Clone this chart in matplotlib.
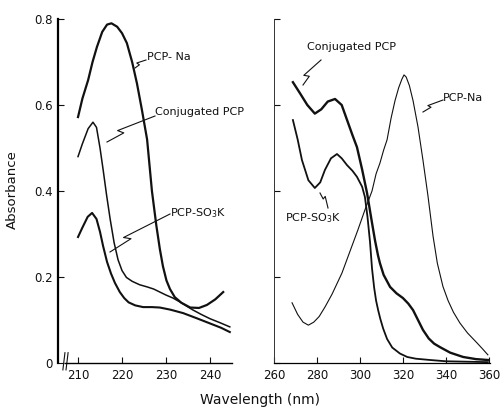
import numpy as np
import matplotlib
matplotlib.use("Agg")
import matplotlib.pyplot as plt
from matplotlib.lines import Line2D

# ---- data (wavelength nm, absorbance) ----
# left panel, 210-245 nm
l_na_nm = [210, 211, 212.3, 213.3, 214.3, 215.5, 216.6, 217.6, 218.9, 220, 221.1, 222.3,
           223.4, 224.5, 225.7, 226.8, 227.8, 228.6, 229.3, 230.1, 230.9, 232, 233.5,
           235.5, 237.5, 239.3, 241.2, 243]
l_na = [0.572, 0.615, 0.658, 0.70, 0.735, 0.77, 0.787, 0.79, 0.782, 0.767, 0.744, 0.70,
        0.65, 0.59, 0.52, 0.40, 0.32, 0.265, 0.225, 0.192, 0.172, 0.153, 0.14,
        0.129, 0.128, 0.135, 0.148, 0.165]

l_conj_nm = [210, 211, 212.3, 213.4, 214.2, 215, 215.7, 216.5, 217.3, 218.2, 219.1, 220,
             221, 222.3, 224, 225.7, 227.2, 228.6, 230, 231.6, 233.5, 236, 238, 240,
             242.2, 244.5]
l_conj = [0.48, 0.51, 0.545, 0.56, 0.548, 0.50, 0.45, 0.39, 0.335, 0.28, 0.24, 0.215,
          0.199, 0.19, 0.182, 0.177, 0.172, 0.165, 0.158, 0.151, 0.14, 0.124, 0.113, 0.103,
          0.094, 0.084]

l_so3k_nm = [210, 211, 212.2, 213.2, 214.2, 215, 215.7, 216.6, 217.5, 218.4, 219.5, 220.5,
             221.5, 223, 224.8, 226.8, 228.6, 231, 233.9, 237, 240, 242.5, 244.5]
l_so3k = [0.293, 0.315, 0.34, 0.349, 0.335, 0.305, 0.272, 0.235, 0.208, 0.186, 0.165,
          0.151, 0.141, 0.134, 0.13, 0.13, 0.129, 0.124, 0.116, 0.104, 0.092, 0.082, 0.072]

# right panel, 260-360 nm
r_conj_nm = [268.8, 272, 275.5, 279, 282, 285, 288.4, 291.5, 294, 296.5, 298.6, 301,
             303.3, 305.6, 307, 308.4, 309.3, 311, 314, 317, 320, 322.5, 324.7, 327,
             329.3, 332, 334.5, 337.2, 342, 348, 354, 359.5]
r_conj = [0.653, 0.628, 0.60, 0.58, 0.59, 0.608, 0.614, 0.60, 0.565, 0.53, 0.502, 0.45,
          0.395, 0.326, 0.285, 0.25, 0.232, 0.205, 0.177, 0.162, 0.151, 0.138, 0.123, 0.10,
          0.077, 0.057, 0.045, 0.037, 0.024, 0.014, 0.009, 0.007]

r_so3k_nm = [268.8, 271, 273, 276, 279, 281.5, 283.7, 286.5, 289.3, 291.5, 294, 296.5,
             298.6, 301, 302.3, 303.5, 304.7, 305.6, 306.6, 307.5, 308.5, 309.5, 310.8,
             312.6, 315, 318.6, 322, 326, 332.6, 340, 350, 359.5]
r_so3k = [0.565, 0.52, 0.472, 0.425, 0.407, 0.42, 0.449, 0.476, 0.486, 0.476, 0.46, 0.447,
          0.433, 0.41, 0.386, 0.34, 0.28, 0.22, 0.175, 0.145, 0.122, 0.102, 0.08,
          0.056, 0.036, 0.022, 0.014, 0.01, 0.007, 0.004, 0.003, 0.002]

r_na_nm = [268.4, 271, 273.5, 276, 278.5, 281, 283.7, 287, 291.6, 295, 299, 302.3, 305.6,
           307.5, 309.3, 311, 312.6, 314.5, 316.3, 318, 319.5, 320.5, 321.5, 323, 324.7,
           327, 329.3, 331.6, 334, 336, 338.6, 341, 343.5, 346.5, 350, 354.4, 357, 359.5]
r_na = [0.14, 0.113, 0.095, 0.088, 0.095, 0.108, 0.13, 0.16, 0.209, 0.255, 0.309, 0.356,
        0.40, 0.44, 0.465, 0.495, 0.519, 0.57, 0.61, 0.64, 0.66, 0.67, 0.665, 0.645, 0.61,
        0.549, 0.472, 0.39, 0.295, 0.232, 0.178, 0.145, 0.118, 0.093, 0.07, 0.047, 0.033,
        0.019]

left_xticks = [210, 220, 230, 240]
right_xticks = [260, 280, 300, 320, 340, 360]
yticks = [0, 0.2, 0.4, 0.6, 0.8]
ytick_labels = ["0", "0.2", "0.4", "0.6", "0.8"]

W, H = 504, 412
ink = "#111111"
plt.rcParams["font.family"] = "DejaVu Sans"

fig = plt.figure(figsize=(W / 100, H / 100), dpi=100)
axl = fig.add_axes([58 / W, 49 / H, 174 / W, 344 / H])
axr = fig.add_axes([274 / W, 49 / H, 216 / W, 344 / H])

axl.plot(l_na_nm, l_na, color=ink, lw=1.6)
axl.plot(l_conj_nm, l_conj, color=ink, lw=1.1)
axl.plot(l_so3k_nm, l_so3k, color=ink, lw=1.5)

axr.plot(r_conj_nm, r_conj, color=ink, lw=1.7)
axr.plot(r_so3k_nm, r_so3k, color=ink, lw=1.3)
axr.plot(r_na_nm, r_na, color=ink, lw=0.8)

axl.set_xlim(205.45, 245)
axr.set_xlim(260, 360.5)
for ax in (axl, axr):
    ax.set_ylim(0, 0.8)
    ax.spines["top"].set_visible(False)
    ax.spines["right"].set_visible(False)
    ax.set_yticks(yticks)
    ax.tick_params(direction="in", length=4, width=0.8, colors=ink,
                   labelsize=8.5, pad=4)

axl.set_xticks(left_xticks)
axl.set_yticklabels(ytick_labels)
axl.spines["left"].set_linewidth(1.6)
axl.spines["bottom"].set_linewidth(1.0)
axl.spines["bottom"].set_bounds(207, 245)

axr.set_xticks(right_xticks)
axr.set_yticklabels([])
axr.spines["left"].set_linewidth(0.7)
axr.spines["bottom"].set_linewidth(0.9)
axr.spines["left"].set_color("#333333")

# axis break marks on the left panel
for dx in (0.0, 0.018):
    axl.plot([0.028 + dx, 0.040 + dx], [-0.02, 0.03], transform=axl.transAxes,
             color=ink, lw=0.8, clip_on=False)

fig.text(260 / W, 1 - 400 / H, "Wavelength (nm)", ha="center", va="center",
         fontsize=10, color=ink)
fig.text(12 / W, 1 - 190 / H, "Absorbance", ha="center", va="center",
         rotation=90, fontsize=9.5, color=ink)


def px(x, y):
    return x / W, 1 - y / H


def leader(a, b, t=0.35, d=5):
    a = np.array(a, float)
    b = np.array(b, float)
    v = b - a
    n = np.array([v[1], -v[0]]) / np.hypot(*v)
    if n[1] > 0:
        n = -n
    p1 = a + t * v
    p2 = a + (t - 0.08) * v + n * d
    pts = [a, p1, p2, b]
    xs, ys = zip(*[px(*p) for p in pts])
    fig.add_artist(Line2D(xs, ys, transform=fig.transFigure, color=ink, lw=0.8))


def label(x, y, s, ha="left"):
    fx, fy = px(x, y)
    fig.text(fx, fy, s, ha=ha, va="center", fontsize=8, color=ink)


leader((135, 68), (146, 60), t=0.4, d=3)
label(147, 57, "PCP- Na")
leader((107, 142), (155, 116))
label(155, 112, "Conjugated PCP")
leader((110, 252), (170, 214))
label(170, 213, "PCP-SO$_3$K")

leader((303, 85), (321, 60))
label(307, 47, "Conjugated PCP")
leader((423, 112), (443, 100), t=0.4, d=3)
label(443, 98, "PCP-Na")
leader((320, 193), (328, 208), t=0.4, d=3)
label(313, 218, "PCP-SO$_3$K", ha="center")

fig.savefig("out.png", dpi=100)
